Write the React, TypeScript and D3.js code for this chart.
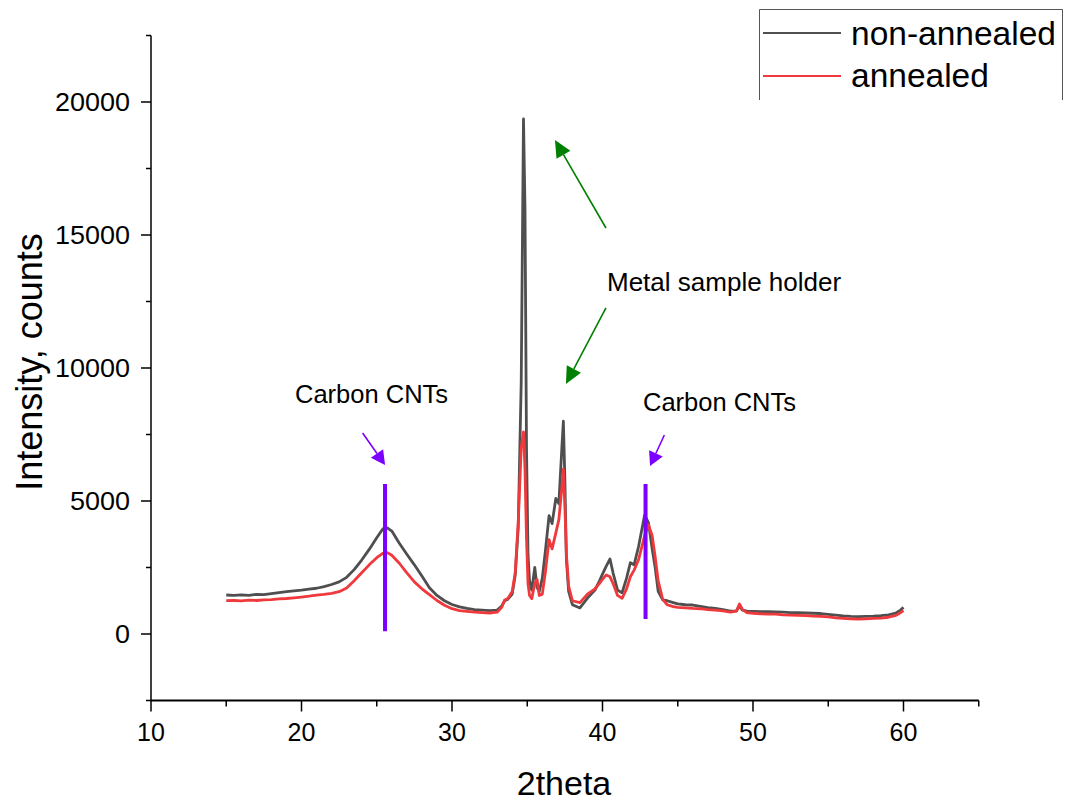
import React from 'react';
import * as d3 from 'd3';

// 2theta grid and intensities
const twoTheta = [
  15.0, 15.5, 16.0, 16.5, 17.0, 17.5, 18.0, 18.5, 19.0, 19.5, 20.0, 20.5, 21.0, 21.5, 22.0, 22.5,
  23.0, 23.5, 24.0, 24.5, 25.0, 25.4, 25.7, 26.0, 26.5, 27.0, 27.5, 28.0, 28.5, 29.0, 29.5, 30.0,
  30.5, 31.0, 31.5, 32.0, 32.5, 33.0, 33.3, 33.5, 33.7, 34.0, 34.2, 34.4, 34.6, 34.75, 34.85, 34.95,
  35.05, 35.15, 35.3, 35.5, 35.65, 35.8, 36.0, 36.2, 36.45, 36.65, 36.9, 37.1, 37.3, 37.4, 37.5, 37.6,
  37.75, 38.0, 38.5, 39.0, 39.5, 39.8, 40.0, 40.25, 40.5, 40.7, 41.0, 41.3, 41.6, 41.85, 42.1, 42.4,
  42.8, 43.05, 43.3, 43.5, 43.7, 44.0, 44.3, 44.7, 45.0, 45.5, 46.0, 46.5, 47.0, 47.5, 48.0, 48.5,
  48.9, 49.1, 49.3, 49.6, 50.0, 50.5, 51.0, 51.5, 52.0, 52.5, 53.0, 53.5, 54.0, 54.5, 55.0, 55.5,
  56.0, 56.5, 57.0, 57.5, 58.0, 58.5, 59.0, 59.5, 59.8, 60.0,
];

const nonAnnealed = [
  1466, 1450, 1470, 1455, 1490, 1480, 1520, 1555, 1590, 1620, 1650, 1690, 1720, 1780, 1860, 1960,
  2130, 2420, 2780, 3180, 3620, 3950, 3990, 3870, 3410, 3000, 2600, 2180, 1740, 1450, 1250, 1110,
  1020, 960, 920, 900, 880, 900, 1050, 1250, 1300, 1500, 2200, 4000, 9500, 19360, 16000, 7000,
  3000, 2000, 1650, 2500, 1750, 1600, 2100, 3100, 4450, 4150, 5100, 4900, 7000, 8000, 5800, 2800,
  1600, 1100, 980, 1350, 1650, 2000, 2250, 2550, 2820, 2300, 1650, 1550, 2100, 2680, 2600, 3300,
  4470, 4200, 3200, 2500, 1600, 1280, 1250, 1180, 1130, 1100, 1090, 1040, 990, 960, 920, 860,
  870, 1050, 900, 860, 850, 840, 840, 830, 820, 800, 800, 790, 780, 770, 740, 710,
  680, 660, 650, 660, 670, 690, 720, 790, 900, 1000,
];

const annealed = [
  1253, 1260, 1245, 1270, 1260, 1285, 1290, 1320, 1335, 1360, 1390, 1420, 1460, 1490, 1530, 1590,
  1730, 2000, 2300, 2600, 2870, 3030, 3060, 2960, 2660, 2300, 1960, 1700, 1480, 1260, 1080, 950,
  880, 850, 820, 800, 790, 820, 1000, 1280, 1330, 1600, 2300, 4200, 7000, 7600, 6200, 3600,
  1900, 1450, 1330, 1900, 2050, 1450, 1500, 2300, 3550, 3200, 3800, 4300, 5500, 6200, 4800, 3000,
  1800, 1250, 1180, 1500, 1700, 1900, 2050, 2220, 2150, 1900, 1450, 1340, 1700, 2150, 2400, 2800,
  3700, 4100, 3700, 2900, 2000, 1300, 1100, 1030, 1000, 980, 960, 950, 920, 900, 870, 820,
  860, 1130, 920, 800, 780, 760, 750, 750, 720, 710, 700, 690, 670, 660, 640, 610,
  590, 570, 560, 570, 585, 600, 630, 700, 800, 880,
];

const seriesNames = ['non-annealed', 'annealed'];
const seriesColors = ['#4f4f4f', '#f0393c'];

const xMajorTicks = [10, 20, 30, 40, 50, 60];
const xMinorTicks = [15, 25, 35, 45, 55, 65];
const yMajorTicks = [0, 5000, 10000, 15000, 20000];
const yMinorTicks = [-2500, 2500, 7500, 12500, 17500, 22500];

// annotation geometry in data units
const cntLines = [
  { x: 25.55, y0: 100, y1: 5640 },
  { x: 42.86, y0: 560, y1: 5640 },
];
const cntLabels = [
  { x: 19.57, y: 8684, text: 'Carbon CNTs' },
  { x: 42.69, y: 8383, text: 'Carbon CNTs' },
];
const cntArrows = [
  { x0: 24.06, y0: 7556, x1: 25.55, y1: 6353 },
  { x0: 44.11, y0: 7481, x1: 43.16, y1: 6316 },
];
const metalLabel = { x: 40.3, y: 12895, text: 'Metal sample holder' };
const metalArrows = [
  { x0: 40.23, y0: 15263, x1: 36.84, y1: 18571 },
  { x0: 40.23, y0: 12256, x1: 37.57, y1: 9398 },
];

const FONT = '"Liberation Sans", Arial, sans-serif';

const x = d3.scaleLinear().domain([10, 65]).range([151, 978.75]);
const y = d3.scaleLinear().domain([-2500, 22500]).range([700.5, 35.5]);

const arrow = (a: { x0: number; y0: number; x1: number; y1: number }, color: string, len: number, half: number, key: string) => {
  const sx = x(a.x0), sy = y(a.y0), tx = x(a.x1), ty = y(a.y1);
  const dx = tx - sx, dy = ty - sy;
  const d = Math.hypot(dx, dy);
  const ux = dx / d, uy = dy / d;
  const bx = tx - ux * len, by = ty - uy * len;
  const pts = [
    [tx, ty],
    [bx - uy * half, by + ux * half],
    [bx + uy * half, by - ux * half],
  ];
  return (
    <g key={key}>
      <line x1={sx} y1={sy} x2={bx} y2={by} stroke={color} strokeWidth={1.6} />
      <polygon points={pts.map(p => p.join(',')).join(' ')} fill={color} />
    </g>
  );
};

export default function App() {
  const line = d3.line<number>().x((_, i) => x(twoTheta[i])).y(d => y(d));
  const series = [nonAnnealed, annealed];

  return (
    <svg width={1067} height={803} style={{ position: 'absolute', left: 0, top: 0, background: '#fff' }} fontFamily={FONT}>
      {/* data */}
      {series.map((s, i) => (
        <path key={seriesNames[i]} d={line(s) || ''} fill="none" stroke={seriesColors[i]} strokeWidth={2.8} strokeLinejoin="round" />
      ))}

      {/* CNT markers */}
      {cntLines.map((l, i) => (
        <line key={'cl' + i} x1={x(l.x)} x2={x(l.x)} y1={y(l.y0)} y2={y(l.y1)} stroke="#7b00ff" strokeWidth={4} />
      ))}
      {cntArrows.map((a, i) => arrow(a, '#7b00ff', 14, 7.5, 'ca' + i))}
      {cntLabels.map((t, i) => (
        <text key={'ct' + i} x={x(t.x)} y={y(t.y)} fontSize={25.5} fill="#000">{t.text}</text>
      ))}
      {metalArrows.map((a, i) => arrow(a, '#008000', 17, 8, 'ma' + i))}
      <text x={x(metalLabel.x)} y={y(metalLabel.y)} fontSize={26} fill="#000">{metalLabel.text}</text>

      {/* axes */}
      <line x1={x(10)} x2={x(10)} y1={y(22500)} y2={y(-2500)} stroke="#000" strokeWidth={1.5} />
      <line x1={x(10)} x2={x(65)} y1={y(-2500)} y2={y(-2500)} stroke="#000" strokeWidth={2.2} />
      {yMajorTicks.map(t => (
        <g key={'ym' + t}>
          <line x1={x(10) - 10} x2={x(10)} y1={y(t)} y2={y(t)} stroke="#000" strokeWidth={1.5} />
          <text x={130} y={y(t) + 9} fontSize={26} textAnchor="end" fill="#000"
            textLength={String(t).length * 15} lengthAdjust="spacingAndGlyphs">{t}</text>
        </g>
      ))}
      {yMinorTicks.map(t => (
        <line key={'yn' + t} x1={x(10) - 5} x2={x(10)} y1={y(t)} y2={y(t)} stroke="#000" strokeWidth={1.5} />
      ))}
      {xMajorTicks.map(t => (
        <g key={'xm' + t}>
          <line x1={x(t)} x2={x(t)} y1={y(-2500)} y2={y(-2500) + 11} stroke="#000" strokeWidth={1.5} />
          <text x={x(t)} y={741} fontSize={25} textAnchor="middle" fill="#000">{t}</text>
        </g>
      ))}
      {xMinorTicks.map(t => (
        <line key={'xn' + t} x1={x(t)} x2={x(t)} y1={y(-2500)} y2={y(-2500) + 6} stroke="#000" strokeWidth={1.5} />
      ))}
      <text x={564} y={795} fontSize={34} textAnchor="middle" fill="#000">2theta</text>
      <text transform="translate(42,362) rotate(-90)" fontSize={36} textAnchor="middle" fill="#000">Intensity, counts</text>

      {/* legend */}
      <path d="M759.5,100 V9.5 H1062.5 V100" fill="none" stroke="#555" strokeWidth={1} />
      {seriesNames.map((n, i) => (
        <g key={'lg' + n}>
          <line x1={763} x2={841} y1={33 + i * 43} y2={33 + i * 43} stroke={seriesColors[i]} strokeWidth={2} />
          <text x={851} y={45 + i * 42} fontSize={33.5} fill="#000">{n}</text>
        </g>
      ))}
    </svg>
  );
}
